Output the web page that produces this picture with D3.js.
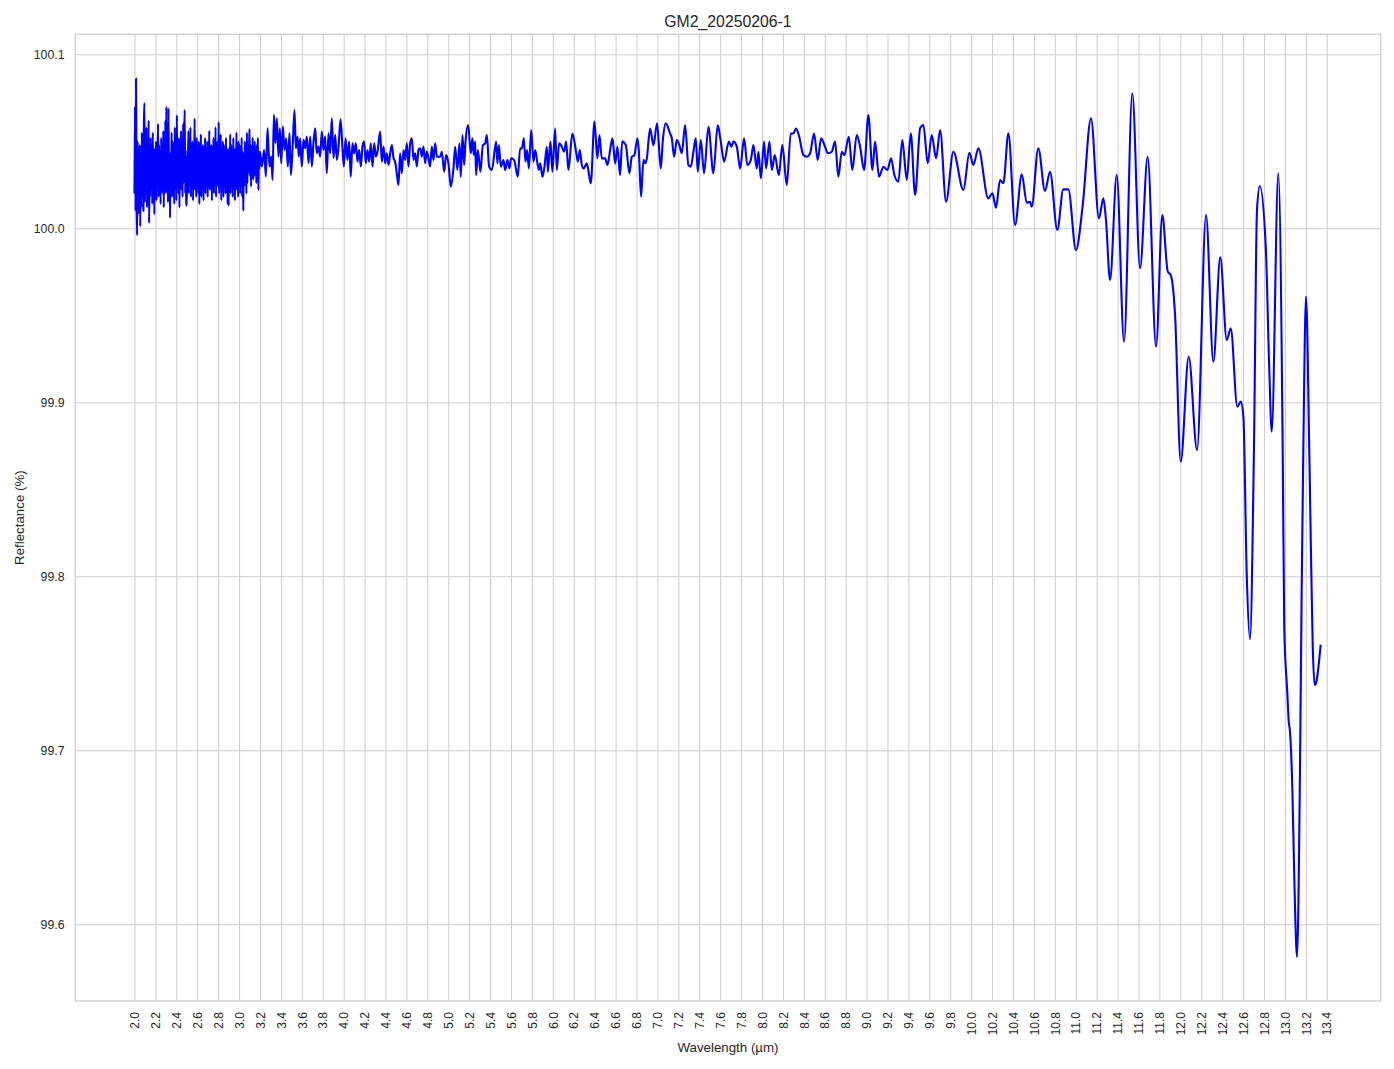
<!DOCTYPE html>
<html><head><meta charset="utf-8">
<script src="https://cdn.jsdelivr.net/npm/d3@7"></script>
<style>
body{margin:0;background:#fff}
svg{display:block}
text{font-family:"Liberation Sans",Arial,Helvetica,sans-serif;fill:#262626}
</style>
</head><body>
<svg id="chart" width="1394" height="1069"></svg>
<script>
// ---- data ----
const wavelength = [
2.000,2.005,2.010,2.015,2.020,2.025,2.030,2.035,2.040,2.045,
2.050,2.055,2.060,2.065,2.070,2.075,2.080,2.085,2.090,2.095,
2.100,2.105,2.110,2.115,2.120,2.125,2.130,2.135,2.140,2.145,
2.150,2.155,2.160,2.165,2.170,2.175,2.180,2.185,2.190,2.195,
2.200,2.205,2.210,2.215,2.220,2.225,2.230,2.235,2.240,2.245,
2.250,2.255,2.260,2.265,2.270,2.275,2.280,2.285,2.290,2.295,
2.300,2.305,2.310,2.315,2.320,2.325,2.330,2.335,2.340,2.345,
2.350,2.355,2.360,2.365,2.370,2.375,2.380,2.385,2.390,2.395,
2.400,2.405,2.410,2.415,2.420,2.425,2.430,2.435,2.440,2.445,
2.450,2.455,2.460,2.465,2.470,2.475,2.480,2.485,2.490,2.495,
2.500,2.505,2.510,2.515,2.520,2.525,2.530,2.535,2.540,2.545,
2.550,2.555,2.560,2.565,2.570,2.575,2.580,2.585,2.590,2.595,
2.600,2.605,2.610,2.615,2.620,2.625,2.630,2.635,2.640,2.645,
2.650,2.655,2.660,2.665,2.670,2.675,2.680,2.685,2.690,2.695,
2.700,2.705,2.710,2.715,2.720,2.725,2.730,2.735,2.740,2.745,
2.750,2.755,2.760,2.765,2.770,2.775,2.780,2.785,2.790,2.795,
2.800,2.805,2.810,2.815,2.820,2.825,2.830,2.835,2.840,2.845,
2.850,2.855,2.860,2.865,2.870,2.875,2.880,2.885,2.890,2.895,
2.900,2.905,2.910,2.915,2.920,2.925,2.930,2.935,2.940,2.945,
2.950,2.955,2.960,2.965,2.970,2.975,2.980,2.985,2.990,2.995,
3.000,3.005,3.010,3.015,3.020,3.025,3.030,3.035,3.040,3.045,
3.050,3.055,3.060,3.065,3.070,3.075,3.080,3.085,3.090,3.095,
3.100,3.105,3.110,3.115,3.120,3.125,3.130,3.135,3.140,3.145,
3.150,3.155,3.160,3.165,3.170,3.175,3.180,3.185,3.190,3.195,
3.200,
3.218,3.240,3.256,3.272,3.291,3.307,3.320,3.333,3.348,3.361,
3.377,3.390,3.403,3.419,3.434,3.450,3.466,3.482,3.495,3.511,
3.530,3.543,3.559,3.571,3.584,3.600,3.616,3.632,3.648,3.664,
3.680,3.696,3.712,3.728,3.743,3.759,3.775,3.791,3.807,3.823,
3.839,3.855,3.871,3.887,3.903,3.919,3.935,3.950,3.970,3.989,
4.002,4.018,4.036,4.052,4.068,4.084,4.100,4.116,4.132,4.148,
4.164,4.180,4.196,4.212,4.228,4.244,4.260,4.276,4.292,4.308,
4.324,4.349,4.365,4.381,4.397,4.413,4.429,4.445,4.461,4.477,
4.492,4.508,4.524,4.540,4.556,4.572,4.588,4.604,4.620,4.636,
4.652,4.668,4.684,4.700,4.715,4.731,4.747,4.763,4.779,4.795,
4.811,4.827,4.843,4.859,4.875,4.891,
4.923,4.939,4.961,4.980,5.002,5.025,5.050,5.066,5.088,5.107,
5.120,5.136,5.152,5.164,5.190,5.216,5.231,5.245,5.257,5.267,
5.283,5.308,5.331,5.353,5.369,5.391,5.417,5.458,5.470,5.484,
5.503,5.528,5.544,5.566,5.585,5.601,5.630,5.665,5.687,5.704,
5.723,5.738,5.754,5.771,5.793,5.815,5.831,5.866,5.879,5.901,
5.920,5.943,5.952,5.977,5.996,6.022,6.038,6.060,6.086,6.108,
6.127,6.149,6.187,6.220,6.239,6.258,6.277,6.296,6.325,6.363,
6.398,6.426,6.446,6.468,6.500,6.522,6.548,6.570,6.596,6.618,
6.643,6.663,6.698,6.732,6.755,6.780,6.809,6.822,6.844,6.866,
6.885,6.899,6.930,6.962,6.997,7.032,7.052,7.080,7.121,7.138,
7.160,7.185,7.210,7.233,7.265,7.296,7.319,7.344,7.367,7.386,
7.415,7.446,7.488,7.535,7.577,7.606,7.638,7.683,7.707,7.727,
7.759,7.791,7.829,7.860,7.893,7.918,7.950,7.966,7.989,8.020,
8.039,8.071,8.094,8.122,8.161,8.195,8.237,8.275,8.300,8.326,
8.352,8.396,8.428,8.460,8.498,8.533,8.565,8.603,8.629,8.667,
8.699,8.730,8.763,8.788,8.830,8.864,8.906,
8.938,8.976,9.017,9.056,9.081,9.119,9.161,9.199,9.234,9.266,
9.304,9.342,9.384,9.423,9.464,9.512,9.543,9.585,9.623,9.665,
9.703,9.760,9.830,9.926,9.983,10.021,10.069,10.164,10.203,10.238,
10.276,10.308,10.356,10.420,10.484,10.532,10.563,10.579,10.642,10.706,
10.754,10.824,10.881,10.929,11.002,11.067,11.146,11.222,
11.264,11.289,11.328,11.392,11.462,11.541,11.615,11.688,11.768,11.828,
11.880,11.908,11.949,12.004,12.080,12.160,12.246,12.316,12.382,12.444,
12.482,12.545,12.578,12.603,12.635,12.666,12.704,12.733,12.760,12.817,
12.849,12.874,12.937,12.979,12.994,13.023,13.036,13.049,13.071,13.090,
13.116,13.144,13.160,13.176,13.202,13.233,13.250,13.266,13.285,13.300,
13.342
];
const reflectance = [
100.020,100.070,100.010,100.086,100.015,99.996,100.050,100.008,100.045,100.018,
100.048,100.001,100.040,100.012,100.055,100.020,100.046,100.010,100.060,100.072,
100.015,100.050,100.025,100.058,100.012,100.044,100.022,100.062,100.003,100.040,
100.018,100.052,100.026,100.048,100.014,100.055,100.020,100.038,100.008,100.046,
100.022,100.050,100.016,100.044,100.028,100.060,100.018,100.048,100.024,100.040,
100.014,100.052,100.030,100.045,100.020,100.056,100.012,100.050,100.026,100.062,
100.020,100.070,100.024,100.048,100.015,100.069,100.022,100.044,100.006,100.038,
100.028,100.055,100.018,100.050,100.030,100.042,100.014,100.058,100.024,100.050,
100.016,100.065,100.028,100.046,100.020,100.052,100.012,100.044,100.030,100.056,
100.022,100.048,100.018,100.060,100.026,100.050,100.068,100.020,100.045,100.014,
100.013,100.042,100.028,100.056,100.020,100.048,100.032,100.058,100.018,100.044,
100.026,100.050,100.016,100.040,100.030,100.063,100.022,100.046,100.018,100.052,
100.028,100.044,100.020,100.050,100.014,100.038,100.026,100.054,100.018,100.046,
100.030,100.048,100.016,100.042,100.024,100.052,100.020,100.040,100.028,100.050,
100.018,100.044,100.030,100.056,100.022,100.040,100.026,100.048,100.016,100.042,
100.028,100.052,100.020,100.046,100.032,100.058,100.018,100.044,100.026,100.050,
100.024,100.061,100.020,100.046,100.030,100.054,100.016,100.042,100.026,100.050,
100.018,100.048,100.028,100.040,100.020,100.052,100.024,100.044,100.014,100.046,
100.013,100.042,100.026,100.054,100.020,100.048,100.030,100.044,100.018,100.052,
100.024,100.046,100.016,100.040,100.028,100.055,100.022,100.044,100.018,100.050,
100.026,100.048,100.020,100.042,100.030,100.052,100.018,100.044,100.010,100.040,
100.024,100.050,100.028,100.046,100.020,100.055,100.026,100.048,100.032,100.044,
100.057,100.030,100.048,100.024,100.044,100.034,100.052,100.028,100.046,100.030,
100.050,100.032,100.044,100.026,100.048,100.030,100.052,100.022,100.044,100.034,
100.044,
100.0355,100.0450,100.0297,100.0575,100.0355,100.0412,100.0278,100.0652,100.0489,100.0632,
100.0412,100.0575,100.0374,100.0585,100.0450,100.0517,100.0355,100.0546,100.0307,100.0450,
100.0680,100.0460,100.0527,100.0412,100.0517,100.0355,100.0508,100.0460,100.0527,100.0374,
100.0527,100.0355,100.0498,100.0575,100.0431,100.0470,100.0412,100.0556,100.0450,100.0527,
100.0316,100.0546,100.0431,100.0632,100.0403,100.0537,100.0393,100.0460,100.0627,100.0460,
100.0355,100.0517,100.0393,100.0498,100.0297,100.0489,100.0431,100.0489,100.0383,100.0450,
100.0355,100.0470,100.0498,100.0374,100.0450,100.0383,100.0489,100.0355,100.0489,100.0412,
100.0441,100.0556,100.0383,100.0470,100.0374,100.0431,100.0364,100.0431,100.0479,100.0403,
100.0383,100.0316,100.0249,100.0431,100.0316,100.0450,100.0393,100.0489,100.0355,100.0489,
100.0517,100.0393,100.0431,100.0355,100.0450,100.0460,100.0412,100.0470,100.0374,100.0441,
100.0403,100.0355,100.0470,100.0393,100.0489,100.0412,
100.0411,100.0440,100.0325,100.0421,100.0373,100.0239,100.0344,100.0469,100.0335,100.0488,
100.0296,100.0536,100.0364,100.0488,100.0593,100.0431,100.0517,100.0421,100.0498,100.0306,
100.0450,100.0325,100.0478,100.0488,100.0536,100.0354,100.0335,100.0498,100.0373,100.0478,
100.0354,100.0392,100.0335,100.0392,100.0344,100.0402,100.0392,100.0296,100.0459,100.0459,
100.0517,100.0383,100.0450,100.0344,100.0565,100.0383,100.0450,100.0335,100.0373,100.0296,
100.0354,100.0469,100.0325,100.0498,100.0325,100.0574,100.0335,100.0488,100.0469,100.0440,
100.0498,100.0335,100.0545,100.0450,100.0383,100.0450,100.0364,100.0344,100.0373,100.0258,
100.0613,100.0402,100.0536,100.0402,100.0402,100.0364,100.0450,100.0517,100.0373,100.0469,
100.0306,100.0498,100.0478,100.0316,100.0411,100.0421,100.0517,100.0450,100.0182,100.0392,
100.0373,100.0402,100.0574,100.0478,100.0603,100.0344,100.0507,100.0603,100.0545,100.0517,
100.0411,100.0507,100.0478,100.0431,100.0593,100.0364,100.0354,100.0440,100.0517,100.0325,
100.0507,100.0316,100.0584,100.0316,100.0593,100.0498,100.0383,100.0498,100.0469,100.0498,
100.0469,100.0344,100.0517,100.0364,100.0392,100.0478,100.0344,100.0440,100.0287,100.0498,
100.0344,100.0498,100.0335,100.0421,100.0306,100.0478,100.0249,100.0545,100.0545,100.0574,
100.0536,100.0421,100.0411,100.0431,100.0545,100.0392,100.0517,100.0469,100.0431,100.0440,
100.0498,100.0296,100.0440,100.0421,100.0526,100.0335,100.0536,
100.0469,100.0335,100.0651,100.0335,100.0498,100.0297,100.0354,100.0335,100.0402,100.0306,
100.0268,100.0507,100.0278,100.0546,100.0191,100.0575,100.0594,100.0374,100.0536,100.0402,
100.0565,100.0153,100.0440,100.0220,100.0434,100.0364,100.0460,100.0172,100.0201,100.0118,
100.0278,100.0259,100.0546,100.0019,100.0310,100.0147,100.0153,100.0124,100.0460,100.0214,
100.0325,99.9990,100.0224,100.0224,99.9875,100.0134,100.0632,100.0057,
100.0172,100.0048,99.9703,100.0306,99.9348,100.0776,99.9770,100.0411,99.9320,100.0076,
99.9751,99.9732,99.9511,99.8659,99.9262,99.8726,100.0076,99.9233,99.9833,99.9358,
99.9425,99.8975,99.9004,99.8917,99.8010,99.7638,99.8730,100.0105,100.0243,99.9894,
99.9224,99.8831,100.0316,99.8726,99.7700,99.7330,99.7170,99.7105,99.6780,99.6263,
99.5812,99.6880,99.7904,99.8726,99.9607,99.8726,99.8110,99.7600,99.7375,99.7392,
99.7607
];
const xTickValues = [2.0,2.2,2.4,2.6,2.8,3.0,3.2,3.4,3.6,3.8,4.0,4.2,4.4,4.6,4.8,5.0,5.2,5.4,5.6,5.8,
  6.0,6.2,6.4,6.6,6.8,7.0,7.2,7.4,7.6,7.8,8.0,8.2,8.4,8.6,8.8,9.0,9.2,9.4,9.6,9.8,
  10.0,10.2,10.4,10.6,10.8,11.0,11.2,11.4,11.6,11.8,12.0,12.2,12.4,12.6,12.8,13.0,13.2,13.4];
const yTickValues = [99.6,99.7,99.8,99.9,100.0,100.1];
const xLimits = [1.434, 13.916];
const yLimits = [99.5559, 100.1115];
const chartTitle = "GM2_20250206-1";
const xLabel = "Wavelength (\u00b5m)";
const yLabel = "Reflectance (%)";

// ---- layout ----
const W = 1394, H = 1069;
const plot = {left: 75.3, right: 1380.7, top: 34.3, bottom: 1001};
const svg = d3.select("#chart");
svg.append("rect").attr("width", W).attr("height", H).attr("fill", "#fff");

const x = d3.scaleLinear().domain(xLimits).range([plot.left, plot.right]);
const y = d3.scaleLinear().domain(yLimits).range([plot.bottom, plot.top]);

const data = wavelength.map((w, i) => ({w, r: reflectance[i]}));

// grid + x axis
const gx = svg.append("g").attr("transform", `translate(0,${plot.bottom})`)
  .call(d3.axisBottom(x).tickValues(xTickValues).tickFormat(d3.format(".1f"))
        .tickSize(-(plot.bottom - plot.top)).tickSizeOuter(0));
gx.select(".domain").remove();
gx.selectAll(".tick line").attr("stroke", "#cccccc").attr("stroke-width", 1);
gx.selectAll(".tick text")
  .attr("transform", "rotate(-90)")
  .attr("x", -11).attr("y", 0).attr("dy", "0.35em")
  .attr("text-anchor", "end")
  .style("font-size", "12px").attr("fill", "#262626");

// grid + y axis
const gy = svg.append("g").attr("transform", `translate(${plot.left},0)`)
  .call(d3.axisLeft(y).tickValues(yTickValues).tickFormat(d3.format(".1f"))
        .tickSize(-(plot.right - plot.left)).tickSizeOuter(0).tickPadding(10.8));
gy.select(".domain").remove();
gy.selectAll(".tick line").attr("stroke", "#cccccc").attr("stroke-width", 1);
gy.selectAll(".tick text").style("font-size", "12.3px").attr("fill", "#262626");

// spines
svg.append("rect")
  .attr("x", plot.left).attr("y", plot.top)
  .attr("width", plot.right - plot.left).attr("height", plot.bottom - plot.top)
  .attr("fill", "none").attr("stroke", "#cccccc").attr("stroke-width", 1.25);

// line
const line = d3.line().x(d => x(d.w)).y(d => y(d.r)).curve(d3.curveMonotoneX);
svg.append("path").datum(data)
  .attr("d", line).attr("fill", "none")
  .attr("stroke", "#0000ff").attr("stroke-width", 2.1)
  .attr("stroke-linejoin", "round");

// title and labels
svg.append("text").attr("x", (plot.left + plot.right) / 2).attr("y", 27)
  .attr("text-anchor", "middle").style("font-size", "15.8px").text(chartTitle);
svg.append("text").attr("x", (plot.left + plot.right) / 2).attr("y", 1052)
  .attr("text-anchor", "middle").style("font-size", "13.3px").text(xLabel);
svg.append("text")
  .attr("transform", `translate(24,${(plot.top + plot.bottom) / 2}) rotate(-90)`)
  .attr("text-anchor", "middle").style("font-size", "13.3px").text(yLabel);
</script>
</body></html>
